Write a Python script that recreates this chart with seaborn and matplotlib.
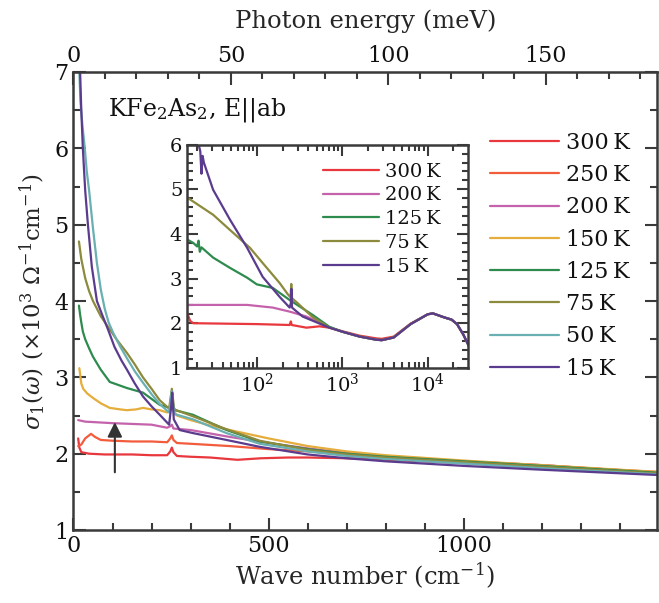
import numpy as np
import pandas as pd
import matplotlib
matplotlib.use('Agg')
import matplotlib.pyplot as plt
from matplotlib.lines import Line2D
from matplotlib.ticker import MultipleLocator, FixedLocator, LogLocator, NullFormatter
import seaborn as sns

# temperaturas e cores
temps = ['300 K', '250 K', '200 K', '150 K', '125 K', '75 K', '50 K', '15 K']
cores = ['#e8383d', '#f25c3c', '#c462ac', '#e5ad3c', '#2e8b4e', '#8c8a3c', '#6aafb1', '#5b3b8e']

# painel principal: numero de onda (cm-1) e sigma1 (10^3 Ohm-1 cm-1)
x_300 = [12, 15, 20, 40, 80, 150, 200, 240, 248, 252, 256, 265, 300, 350, 420, 480, 550, 600, 700, 800, 1000, 1200, 1500]
y_300 = [2.2, 2.08, 2.02, 2.0, 1.99, 1.99, 1.98, 1.98, 2.03, 2.08, 2.02, 1.97, 1.96, 1.95, 1.92, 1.94, 1.95, 1.95, 1.94, 1.92, 1.88, 1.84, 1.76]
x_250 = [12, 20, 30, 45, 55, 70, 100, 150, 200, 240, 248, 252, 256, 265, 300, 400, 500, 600, 700, 800, 1000, 1200, 1500]
y_250 = [2.1, 2.12, 2.2, 2.26, 2.22, 2.18, 2.17, 2.16, 2.16, 2.15, 2.2, 2.24, 2.18, 2.14, 2.13, 2.1, 2.06, 2.03, 1.99, 1.96, 1.9, 1.85, 1.75]
x_200 = [12, 30, 100, 150, 200, 240, 248, 252, 256, 300, 400, 500, 600, 700, 800, 1000, 1200, 1500]
y_200 = [2.44, 2.42, 2.4, 2.39, 2.38, 2.34, 2.36, 2.38, 2.33, 2.31, 2.22, 2.14, 2.07, 2.01, 1.97, 1.9, 1.85, 1.75]
x_150 = [15, 18, 20, 25, 35, 50, 70, 93, 120, 137, 160, 178, 200, 221, 240, 252, 265, 300, 350, 400, 500, 600, 700, 800, 1000, 1200, 1500]
y_150 = [3.12, 3.0, 2.92, 2.85, 2.79, 2.73, 2.66, 2.6, 2.58, 2.57, 2.58, 2.6, 2.58, 2.57, 2.54, 2.6, 2.5, 2.44, 2.37, 2.31, 2.2, 2.1, 2.03, 1.98, 1.91, 1.85, 1.76]
x_125 = [14, 17, 20, 24, 30, 40, 50, 70, 93, 115, 137, 178, 221, 247, 252, 260, 306, 392, 477, 600, 700, 800, 1000, 1200, 1500]
y_125 = [3.94, 3.82, 3.72, 3.6, 3.5, 3.38, 3.27, 3.1, 2.94, 2.9, 2.86, 2.8, 2.64, 2.6, 2.66, 2.57, 2.51, 2.31, 2.16, 2.06, 2.0, 1.96, 1.9, 1.84, 1.75]
x_75 = [14, 20, 30, 40, 50, 70, 90, 110, 137, 157, 178, 200, 221, 245, 252, 258, 306, 392, 477, 600, 700, 800, 1000, 1200, 1500]
y_75 = [4.78, 4.55, 4.3, 4.13, 4.0, 3.8, 3.65, 3.5, 3.32, 3.17, 3.0, 2.85, 2.7, 2.59, 2.85, 2.58, 2.49, 2.32, 2.17, 2.05, 1.99, 1.95, 1.89, 1.83, 1.74]
x_50 = [12, 18, 23, 29, 34, 40, 50, 60, 70, 80, 90, 102, 120, 137, 157, 178, 200, 221, 245, 252, 258, 306, 392, 477, 600, 700, 800, 1000, 1200, 1500]
y_50 = [7.4, 6.6, 6.3, 6.0, 5.7, 5.45, 4.95, 4.5, 4.15, 3.9, 3.72, 3.58, 3.4, 3.25, 3.08, 2.93, 2.78, 2.65, 2.54, 2.82, 2.52, 2.45, 2.27, 2.13, 2.03, 1.97, 1.93, 1.87, 1.81, 1.73]
x_15 = [13, 17, 20, 24, 30, 37, 47, 60, 75, 89, 105, 123, 137, 157, 178, 200, 221, 245, 250, 253, 257, 272, 306, 392, 477, 600, 700, 800, 1000, 1200, 1500]
y_15 = [7.8, 7.0, 6.5, 6.0, 5.45, 5.0, 4.45, 4.0, 3.8, 3.62, 3.4, 3.22, 3.1, 2.92, 2.75, 2.62, 2.51, 2.38, 2.6, 2.8, 2.45, 2.31, 2.27, 2.18, 2.09, 1.99, 1.94, 1.9, 1.84, 1.79, 1.72]

# inset (escala log)
ins_temps = ['300 K', '200 K', '125 K', '75 K', '15 K']
ix_300 = [15.5, 16.6, 18, 100, 242, 250, 256, 381, 540, 706]
iy_300 = [2.2, 2.05, 2.0, 1.98, 1.96, 2.04, 1.96, 1.9, 1.93, 1.9]
ix_200 = [15.5, 77, 154, 242, 381, 706]
iy_200 = [2.41, 2.41, 2.35, 2.26, 2.15, 1.91]
ix_125 = [15.5, 18, 20, 20.8, 21.5, 22.5, 30.8, 48.5, 77, 100, 154, 242, 447, 706]
iy_125 = [3.87, 3.8, 3.72, 3.85, 3.6, 3.7, 3.47, 3.24, 3.02, 2.87, 2.79, 2.52, 2.19, 1.92]
ix_75 = [15.5, 30.8, 48.5, 83, 117, 185, 230, 248, 253, 258, 300, 447, 706]
iy_75 = [4.81, 4.43, 4.09, 3.69, 3.35, 2.9, 2.65, 2.58, 2.88, 2.56, 2.45, 2.14, 1.9]
ix_15 = [19.5, 20.6, 21.8, 22.5, 23.2, 24, 30.8, 48.5, 77, 117, 185, 242, 250, 254, 258, 343, 706]
iy_15 = [6.3, 6.05, 5.85, 5.35, 5.75, 5.6, 4.99, 4.32, 3.69, 3.04, 2.59, 2.35, 2.45, 2.77, 2.35, 2.15, 1.9]
# parte de alta frequencia (comum)
tail_x = [1000, 1600, 2500, 2900, 4000, 6300, 10000, 11500, 15600, 19000, 22000, 26000, 31000]
tail_y = [1.81, 1.7, 1.63, 1.62, 1.68, 1.98, 2.2, 2.22, 2.13, 2.08, 1.98, 1.75, 1.45]
tail_y_300 = [1.82, 1.72, 1.66, 1.65, 1.7, 1.99, 2.2, 2.22, 2.13, 2.08, 1.98, 1.75, 1.45]

main_x = [x_300, x_250, x_200, x_150, x_125, x_75, x_50, x_15]
main_y = [y_300, y_250, y_200, y_150, y_125, y_75, y_50, y_15]
rows = []
for t, xs, ys in zip(temps, main_x, main_y):
    for a, b in zip(xs, ys):
        rows.append((t, a, b))
df = pd.DataFrame(rows, columns=['T', 'nu', 'sigma'])

ins_x = [ix_300, ix_200, ix_125, ix_75, ix_15]
ins_y = [iy_300, iy_200, iy_125, iy_75, iy_15]
rows = []
for t, xs, ys in zip(ins_temps, ins_x, ins_y):
    ty = tail_y_300 if t == '300 K' else tail_y
    for a, b in zip(xs + tail_x, ys + ty):
        rows.append((t, a, b))
df_ins = pd.DataFrame(rows, columns=['T', 'nu', 'sigma'])

pal = dict(zip(temps, cores))

sns.set_style('ticks')
plt.rcParams['font.family'] = ['DejaVu Serif']
plt.rcParams['mathtext.fontset'] = 'dejavuserif'
cor_eixo = '#3a3a3a'
plt.rcParams['axes.edgecolor'] = cor_eixo
plt.rcParams['xtick.color'] = cor_eixo
plt.rcParams['ytick.color'] = cor_eixo
plt.rcParams['text.color'] = '#111111'
plt.rcParams['xtick.labelcolor'] = '#111111'
plt.rcParams['ytick.labelcolor'] = '#111111'

fig = plt.figure(figsize=(6.59, 6.03), dpi=100)
ax = fig.add_axes([0.1115, 0.121, 0.8855, 0.7596])

sns.lineplot(data=df, x='nu', y='sigma', hue='T', hue_order=temps, palette=pal,
             estimator=None, sort=False, lw=1.6, legend=False, ax=ax)
ax.set_xlim(0, 1495)
ax.set_ylim(1, 7)
ax.xaxis.set_major_locator(MultipleLocator(500))
ax.xaxis.set_minor_locator(MultipleLocator(100))
ax.yaxis.set_major_locator(MultipleLocator(1))
ax.yaxis.set_minor_locator(MultipleLocator(0.5))
ax.tick_params(which='both', direction='in', top=False, right=True, width=1.5, labelsize=16)
ax.tick_params(which='major', length=9)
ax.tick_params(which='minor', length=5)
for s in ax.spines.values():
    s.set_linewidth(1.8)
ax.set_xlabel('Wave number (cm$^{-1}$)', fontsize=17.5, labelpad=3)
ax.set_ylabel(r'$\sigma_1(\omega)$ ($\times10^3$ $\Omega^{-1}$cm$^{-1}$)', fontsize=16.5, labelpad=5)

top = ax.secondary_xaxis('top', functions=(lambda x: x / 8.0655, lambda e: e * 8.0655))
top.xaxis.set_major_locator(FixedLocator([0, 50, 100, 150]))
top.xaxis.set_minor_locator(FixedLocator(list(range(0, 190, 10))))
top.tick_params(which='both', direction='in', width=1.5, labelsize=16)
top.tick_params(which='major', length=9)
top.tick_params(which='minor', length=5)
top.set_xlabel('Photon energy (meV)', fontsize=17.5, labelpad=12)

ax.text(0.06, 0.917, 'KFe$_2$As$_2$, E||ab', transform=ax.transAxes, fontsize=17, va='center')

ax.annotate('', xy=(106, 2.45), xytext=(106, 1.72),
            arrowprops=dict(arrowstyle='-|>', color='#333333', lw=1.5, mutation_scale=22))

handles = [Line2D([], [], color=pal[t], lw=1.6) for t in temps]
labels = [t.replace(' ', '\u2009') for t in temps]
ax.legend(handles, labels, loc='upper left', bbox_to_anchor=(0.714, 0.869), frameon=False,
          fontsize=16, handlelength=3.1, handletextpad=0.3, labelspacing=0.46,
          borderpad=0, borderaxespad=0)

# inset
axi = fig.add_axes([0.284, 0.390, 0.426, 0.370])
sns.lineplot(data=df_ins, x='nu', y='sigma', hue='T', hue_order=ins_temps, palette=pal,
             estimator=None, sort=False, lw=1.6, legend=False, ax=axi)
axi.set_xscale('log')
axi.set_xlim(15.3, 29500)
axi.set_ylim(1, 6)
axi.xaxis.set_major_locator(LogLocator(base=10, numticks=10))
axi.xaxis.set_minor_locator(LogLocator(base=10, subs=np.arange(2, 10), numticks=10))
axi.xaxis.set_minor_formatter(NullFormatter())
axi.yaxis.set_major_locator(MultipleLocator(1))
axi.yaxis.set_minor_locator(MultipleLocator(0.2))
axi.tick_params(which='both', direction='in', top=True, right=True, width=1.5, labelsize=14)
axi.tick_params(which='major', length=8)
axi.tick_params(which='minor', length=4)
for s in axi.spines.values():
    s.set_linewidth(1.8)
axi.set_xlabel('')
axi.set_ylabel('')
handles = [Line2D([], [], color=pal[t], lw=1.6) for t in ins_temps]
labels = [t.replace(' ', '\u2009') for t in ins_temps]
axi.legend(handles, labels, loc='upper left', bbox_to_anchor=(0.484, 0.92), frameon=False,
           fontsize=14, handlelength=2.9, handletextpad=0.3, labelspacing=0.3,
           borderpad=0, borderaxespad=0)

fig.savefig('out.png', dpi=100)
